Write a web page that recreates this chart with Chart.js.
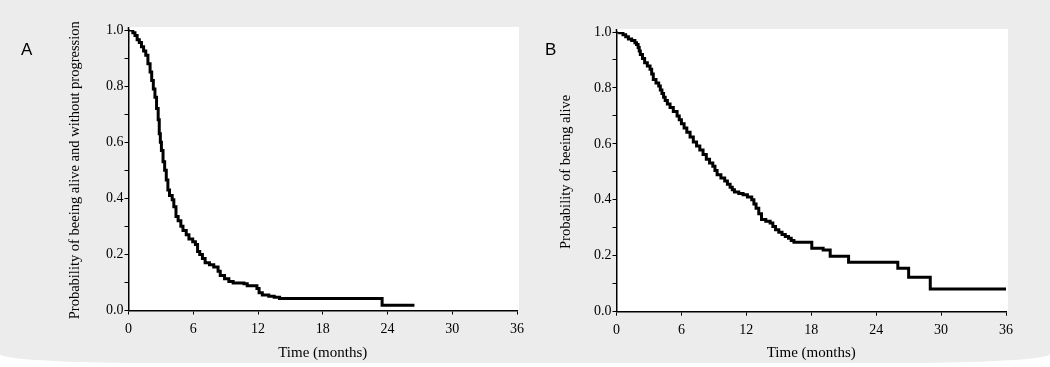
<!DOCTYPE html>
<html>
<head>
<meta charset="utf-8">
<title>Kaplan-Meier curves</title>
<script src="https://cdn.jsdelivr.net/npm/chart.js@4/dist/chart.umd.min.js"></script>
<style>
  html, body { margin: 0; padding: 0; background: #fff; }
  #page {
    position: absolute; left: 0; top: 0; width: 1050px; height: 363px;
    background: #ececec;
    border-radius: 0 0 140px 140px / 0 0 9px 9px;
  }
  canvas { position: absolute; top: 0; }
  #chartA { left: 0; }
  #chartB { left: 530px; }
  .tag {
    position: absolute; font-family: "Liberation Sans", Arial, sans-serif;
    font-size: 17px; line-height: 17px; color: #000;
  }
</style>
</head>
<body>
<div id="page"></div>
<canvas id="chartA" width="530" height="367"></canvas>
<canvas id="chartB" width="520" height="367"></canvas>
<div class="tag" style="left:21px; top:41px;">A</div>
<div class="tag" style="left:545px; top:41px;">B</div>

<script>
// Panel A: progression-free survival (months, probability)
const timesA = [0, 0.4, 0.6, 0.8, 1.0, 1.2, 1.4, 1.6, 1.8, 2.0, 2.15, 2.3, 2.45, 2.6, 2.75, 2.85, 2.95,
  3.05, 3.2, 3.35, 3.5, 3.65, 3.8, 4.05, 4.2, 4.4, 4.6, 4.85, 5.05, 5.35, 5.6, 5.95, 6.2, 6.4,
  6.6, 6.85, 7.1, 7.5, 7.9, 8.3, 8.5, 8.9, 9.3, 9.7, 10.7, 11.0, 11.9, 12.1, 12.4, 13.0, 13.5,
  14.0, 23.5, 26.5];
const survA = [1.0, 0.99, 0.98, 0.965, 0.955, 0.94, 0.925, 0.91, 0.88, 0.85, 0.82, 0.79, 0.76, 0.72, 0.68, 0.63, 0.60,
  0.57, 0.53, 0.50, 0.465, 0.43, 0.41, 0.395, 0.37, 0.335, 0.32, 0.30, 0.285, 0.27, 0.255, 0.245, 0.235, 0.21,
  0.20, 0.185, 0.17, 0.163, 0.155, 0.14, 0.125, 0.113, 0.103, 0.098, 0.095, 0.088, 0.078, 0.063, 0.055, 0.051, 0.047,
  0.043, 0.019, 0.019];

// Panel B: overall survival
const timesB = [0, 0.3, 0.6, 0.85, 1.1, 1.4, 1.7, 1.85, 2.0, 2.1, 2.2, 2.4, 2.6, 2.85, 3.1, 3.25, 3.4,
  3.65, 3.9, 4.05, 4.2, 4.35, 4.5, 4.7, 4.95, 5.25, 5.6, 5.8, 6.0, 6.25, 6.5, 6.8, 7.1, 7.4, 7.7,
  8.0, 8.3, 8.6, 8.9, 9.1, 9.3, 9.65, 10.0, 10.25, 10.5, 10.7, 10.9, 11.3, 11.7, 12.1, 12.5, 12.7,
  12.9, 13.15, 13.4, 13.8, 14.2, 14.45, 14.7, 15.0, 15.3, 15.6, 15.9, 16.15, 16.4, 18.05, 19.1,
  19.75, 21.45, 26.0, 27.0, 29.0, 36.0];
const survB = [1.0, 0.997, 0.99, 0.983, 0.975, 0.97, 0.962, 0.955, 0.945, 0.932, 0.92, 0.905, 0.89, 0.878, 0.867, 0.85, 0.83,
  0.818, 0.807, 0.793, 0.78, 0.767, 0.755, 0.743, 0.73, 0.716, 0.70, 0.686, 0.672, 0.657, 0.642, 0.625, 0.607, 0.592, 0.578,
  0.562, 0.545, 0.532, 0.52, 0.505, 0.49, 0.478, 0.467, 0.456, 0.445, 0.436, 0.428, 0.423, 0.418, 0.41, 0.40, 0.385,
  0.37, 0.35, 0.33, 0.323, 0.317, 0.305, 0.293, 0.284, 0.276, 0.269, 0.263, 0.255, 0.248, 0.227, 0.221,
  0.198, 0.177, 0.155, 0.123, 0.081, 0.081];

// Axes
const xTickStep = 6;      // 0, 6, 12 ... 36
const xMax = 36;
const yMinorStep = 0.1;   // minor ticks, labels every 0.2
const xTitle = "Time (months)";
const yTitleA = "Probability of beeing alive and without progression";
const yTitleB = "Probability of beeing alive";

const serif = "'Liberation Serif', 'Times New Roman', serif";

// white plot box, a bit taller/wider than the axes
const plotBox = {
  id: "plotBox",
  beforeDraw(chart, args, opts) {
    const { ctx, chartArea: a } = chart;
    ctx.save();
    ctx.fillStyle = "#fff";
    ctx.fillRect(a.left, a.top - opts.top, a.right - a.left + opts.right, a.bottom - a.top + opts.top);
    ctx.restore();
  },
  afterDraw(chart, args, opts) {
    const { ctx, chartArea: a } = chart;
    ctx.save();
    ctx.strokeStyle = "#000";
    ctx.lineWidth = 1.5;
    ctx.beginPath();
    ctx.moveTo(a.left, a.top);
    ctx.lineTo(a.left, a.top - opts.top);
    ctx.stroke();
    ctx.restore();
  }
};

const makeChart = (id, times, surv, cfg) => {
  const ctx = document.getElementById(id).getContext("2d");
  return new Chart(ctx, {
    type: "line",
    data: {
      datasets: [{
        data: times.map((t, i) => ({ x: t, y: surv[i] })),
        stepped: "before",
        borderColor: "#000",
        borderWidth: 3,
        pointRadius: 0,
        fill: false
      }]
    },
    options: {
      responsive: false,
      animation: false,
      devicePixelRatio: 1,
      layout: { padding: { top: cfg.top, right: cfg.right, left: 0, bottom: 0 } },
      plugins: {
        legend: { display: false },
        tooltip: { enabled: false },
        plotBox: { top: 3, right: 2 }
      },
      scales: {
        x: {
          type: "linear",
          min: 0,
          max: xMax,
          afterFit: (s) => { s.height = cfg.xHeight; },
          border: { color: "#000", width: 1.5 },
          grid: { drawOnChartArea: false, drawTicks: true, tickLength: 4, color: "#000", lineWidth: 1 },
          ticks: { stepSize: xTickStep, color: "#000", padding: 6, font: { family: serif, size: 14 }, maxRotation: 0 },
          title: { display: true, text: xTitle, color: "#000", font: { family: serif, size: 15 }, padding: { top: 0, bottom: 5 } }
        },
        y: {
          min: 0,
          max: 1,
          afterFit: (s) => { s.width = cfg.yWidth; },
          border: { color: "#000", width: 1.5 },
          grid: { drawOnChartArea: false, drawTicks: true, tickLength: 4, color: "#000", lineWidth: 1 },
          ticks: {
            stepSize: yMinorStep,
            color: "#000",
            padding: 1,
            font: { family: serif, size: 14 },
            callback: (v) => (Math.round(v * 10) % 2 === 0 ? v.toFixed(1) : "")
          },
          title: { display: true, text: cfg.yTitle, color: "#000", font: { family: serif, size: 14.5 }, padding: { top: cfg.yTitlePad, bottom: 0 } }
        }
      }
    },
    plugins: [plotBox]
  });
};

makeChart("chartA", timesA, survA, { top: 30, right: 12, xHeight: 56.5, yWidth: 128.5, yTitle: yTitleA, yTitlePad: 66 });
makeChart("chartB", timesB, survB, { top: 32, right: 44, xHeight: 55.3, yWidth: 86.5, yTitle: yTitleB, yTitlePad: 27 });
</script>
</body>
</html>
